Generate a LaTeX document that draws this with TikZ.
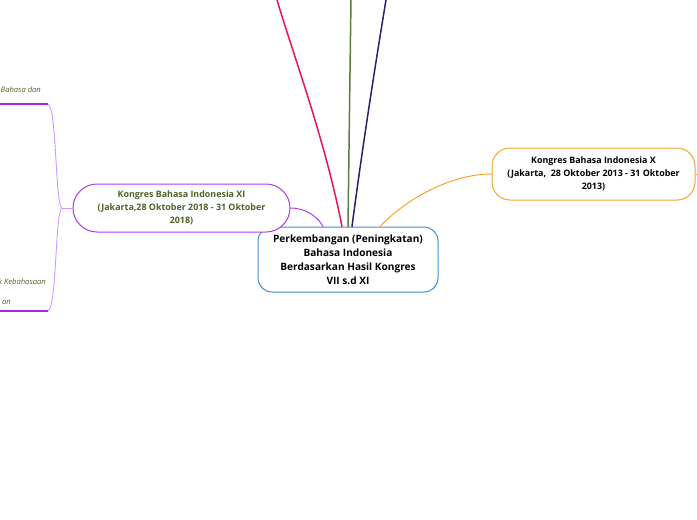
\documentclass[tikz,border=0pt]{standalone}
\usepackage{fontspec}
\setmainfont{Open Sans}
\usetikzlibrary{calc}

\definecolor{mainblue}{RGB}{58,142,212}
\definecolor{kbiorange}{RGB}{245,166,40}
\definecolor{kbipurple}{RGB}{170,60,240}
\definecolor{kbililac}{RGB}{212,150,255}
\definecolor{kbiline}{RGB}{160,40,235}
\definecolor{kbiolive}{RGB}{79,98,40}
\definecolor{kbired}{RGB}{232,20,85}
\definecolor{kbigreen}{RGB}{95,125,55}
\definecolor{kbinavy}{RGB}{42,32,112}

\begin{document}
\begin{tikzpicture}[
    x=1pt,
    y=-1pt,
    topic/.style={
        draw=mainblue,
        line width=1pt,
        rounded corners=14pt,
        fill=white,
        align=center,
        minimum width=180pt,
        minimum height=65pt,
        font=\bfseries\fontsize{10.1}{13.9}\selectfont
    },
    subtopic/.style={
        line width=1pt,
        fill=white,
        align=center,
        font=\bfseries\fontsize{8.9}{12.7}\selectfont
    },
    branch/.style={
        line width=1.5pt,
        line cap=round
    },
    leaf/.style={
        inner sep=0pt,
        text=kbiolive,
        font=\itshape\fontsize{7.6}{9}\selectfont
    }
]

\useasboundingbox (0,0) rectangle (697,520);
\clip (0,0) rectangle (697,520);

% =====================================================
% Main nodes
% =====================================================

\node[topic] (PBI) at (348,259.5)
  {Perkembangan (Peningkatan)\\Bahasa Indonesia\\Berdasarkan Hasil Kongres\\VII s.d XI};

\node[subtopic, draw=kbiorange, rounded corners=18pt,
      minimum width=203pt, minimum height=52pt] (KBIX) at (593.5,174)
  {Kongres Bahasa Indonesia X\\(Jakarta,\ \ 28 Oktober 2013 - 31 Oktober\\2013)};

\node[subtopic, draw=kbipurple, text=kbiolive, rounded corners=24pt,
      minimum width=217pt, minimum height=48pt] (KBIXI) at (181.5,208)
  {Kongres Bahasa Indonesia XI\\(Jakarta,28 Oktober 2018 - 31 Oktober\\2018)};

% =====================================================
% Free ends (nodes out of frame)
% =====================================================

\coordinate (topR) at (277,0);
\coordinate (topG) at (351,0);
\coordinate (topN) at (386,0);
\coordinate (outX) at (700,174);

\coordinate (fork) at (62,208);
\coordinate (leafA) at (48,104);
\coordinate (leafB) at (48,311);

% =====================================================
% Branches from the main topic
% =====================================================

\draw[branch, kbired]
  ($(PBI.north)+(-6,0)$) .. controls (325,140) and (295,60) .. (topR);
\draw[branch, kbigreen]
  ($(PBI.north)+(0,0)$) .. controls (349,150) and (350,70) .. (topG);
\draw[branch, kbinavy]
  ($(PBI.north)+(4,0)$) .. controls (362,150) and (376,60) .. (topN);

\draw[branch, kbiorange, line width=1pt]
  ($(PBI.north)+(32,0)$) .. controls (405,200) and (450,174) .. (KBIX.west);
\draw[branch, kbiorange, line width=1pt] (KBIX.east) -- (outX);

\draw[branch, kbipurple, line width=1pt]
  (KBIXI.east) .. controls (306,208) and (318,217) .. ($(PBI.north)+(-25,0)$);

% =====================================================
% Leaves of Kongres XI
% =====================================================

\draw[kbililac, line width=0.9pt] (KBIXI.west) -- (fork);
\draw[kbililac, line width=0.9pt]
  (fork) .. controls (55,205) and (57,108) .. (leafA);
\draw[kbililac, line width=0.9pt]
  (fork) .. controls (55,211) and (57,307) .. (leafB);

\draw[kbiline, line width=1.5pt] (leafA) -- (0,104);
\draw[kbiline, line width=1.5pt] (leafB) -- (0,311);

\node[leaf, anchor=base west] (txtA) at (0.5,92) {Bahasa dan};
\node[leaf, anchor=base east] (txtB) at (46,284) {k Kebahasaan};
\node[leaf, anchor=base east] (txtC) at (11,304) {an};

\end{tikzpicture}
\end{document}
